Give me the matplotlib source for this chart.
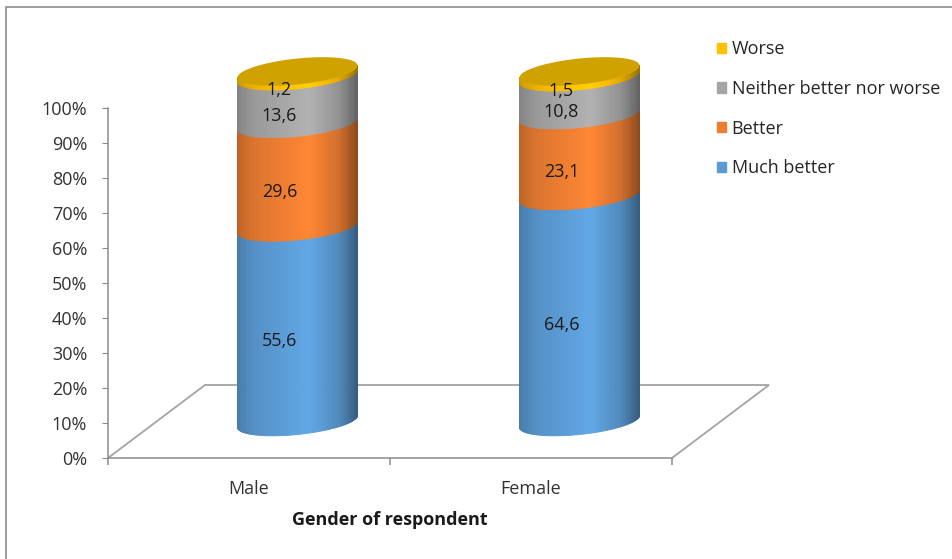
import numpy as np
import matplotlib.pyplot as plt
from matplotlib.collections import PolyCollection
from matplotlib.patches import Polygon, Rectangle

plt.rcParams['font.family'] = ['Open Sans', 'DejaVu Sans']

groups = ['Male', 'Female']
series = ['Much better', 'Better', 'Neither better nor worse', 'Worse']
much_better = [55.6, 64.6]
better = [29.6, 23.1]
neither = [13.6, 10.8]
worse = [1.2, 1.5]
colors = ['#5B9BD5', '#ED7D31', '#A5A5A5', '#FFC000']
top_color = '#CFA200'
yticks = list(range(0, 101, 10))

FS = 13
W, H = 953, 559
fig = plt.figure(figsize=(W / 100, H / 100), dpi=100)
ax = fig.add_axes([108 / W, (H - 458) / H, (672 - 108) / W, 350 / H])
ax.set_xlim(-0.5, 1.5)
ax.set_ylim(0, 100)

# pixel -> data helpers for the fake 3d
px_x = 564 / 2
px_y = 350 / 100
dx, dy = 97 / px_x, 73 / px_y          # depth of the floor
a, b, k = 60 / px_x, 13 / px_y, 6 / px_y  # ellipse half width, half height, tilt

def shade(c, u):
    f = np.interp(u, [0, 0.15, 0.6, 0.85, 1], [0.80, 0.93, 1.08, 0.88, 0.60])
    rgb = np.array(plt.matplotlib.colors.to_rgb(c))
    return tuple(np.clip(rgb * f, 0, 1))

def ell_off(t):
    return b * np.sin(t) + k * np.cos(t)

# floor
gray = '#A3A3A3'
fl = [(-0.5, 0), (-0.5 + dx, dy), (1.5 + dx, dy), (1.5, 0)]
ax.add_patch(Polygon(fl, closed=False, fill=False, edgecolor=gray, lw=1.3,
                     clip_on=False, zorder=1))

data = np.array([much_better, better, neither, worse])
s = np.linspace(0, 1, 61)
t = np.pi + np.pi * s
for i, g in enumerate(groups):
    cx = i + dx / 2
    base = dy / 2
    xs = cx + a * np.cos(t)
    off = ell_off(t)
    u = (xs - (cx - a)) / (2 * a)
    level = base
    for j in range(len(series)):
        v = data[j, i]
        y0, y1 = level, level + v
        polys, fcs = [], []
        for m in range(len(s) - 1):
            polys.append([(xs[m], y0 + off[m]), (xs[m + 1], y0 + off[m + 1]),
                          (xs[m + 1], y1 + off[m + 1]), (xs[m], y1 + off[m])])
            fcs.append(shade(colors[j], (u[m] + u[m + 1]) / 2))
        pc = PolyCollection(polys, facecolors=fcs, edgecolors=fcs, linewidths=0.6,
                            clip_on=False, zorder=3)
        ax.add_collection(pc)
        ax.annotate(f'{v:.1f}'.replace('.', ','), (cx, (y0 + y1) / 2),
                    xytext=(-13, -12), textcoords='offset points',
                    ha='center', va='center', fontsize=FS, color='#1a1a1a',
                    zorder=5, annotation_clip=False)
        level = y1
    tt = np.linspace(0, 2 * np.pi, 120)
    top = list(zip(cx + a * np.cos(tt), level + ell_off(tt)))
    ax.add_patch(Polygon(top, closed=True, facecolor=top_color, edgecolor='none',
                         clip_on=False, zorder=4))

# axes styling
for sp in ['top', 'right']:
    ax.spines[sp].set_visible(False)
for sp in ['left', 'bottom']:
    ax.spines[sp].set_color('#8C8C8C')
    ax.spines[sp].set_linewidth(1.1)
ax.set_yticks(yticks)
ax.set_yticklabels([f'{v}%' for v in yticks])
ax.tick_params(axis='y', length=4, color='#8C8C8C', labelsize=FS,
               labelcolor='#333333', pad=11)
ax.set_xticks(range(len(groups)))
ax.set_xticklabels(groups)
ax.tick_params(axis='x', which='major', length=0, pad=16, labelsize=FS,
               labelcolor='#333333')
ax.set_xticks([-0.5, 0.5, 1.5], minor=True)
ax.tick_params(axis='x', which='minor', length=5, color='#8C8C8C', width=1.1)
ax.set_xlabel('Gender of respondent', fontsize=FS, fontweight='bold',
              color='#1a1a1a', labelpad=9)
ax.patch.set_visible(False)

# legend
handles = [Rectangle((0, 0), 1, 1, color=c) for c in colors[::-1]]
fig.legend(handles, series[::-1], loc='upper left',
           bbox_to_anchor=(701 / W, 1 - 24 / H), frameon=False,
           handlelength=0.5, handleheight=0.5, handletextpad=0.3,
           labelspacing=1.2, fontsize=FS, labelcolor='#262626')

# chart border
fig.patches.append(Rectangle((6 / W, -0.1), 1.2, 1.1 - 7 / H, fill=False,
                             edgecolor='#8C8C8C', lw=1.2,
                             transform=fig.transFigure, figure=fig))

fig.savefig('out.png', dpi=100)
